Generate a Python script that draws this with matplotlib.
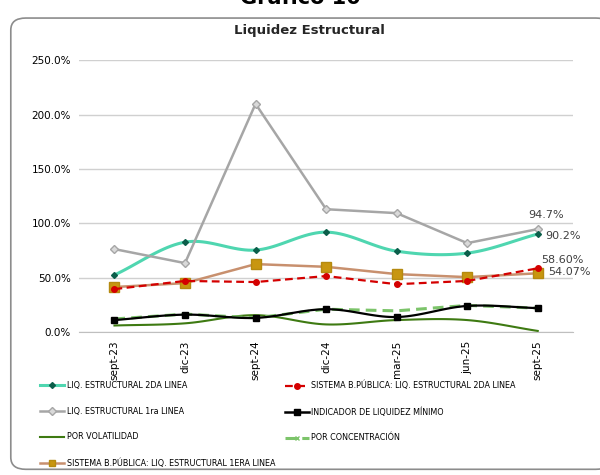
import numpy as np
import matplotlib
matplotlib.use('Agg')
import matplotlib.pyplot as plt
from matplotlib.patches import FancyBboxPatch
from matplotlib.ticker import FuncFormatter
from matplotlib.lines import Line2D

periods = ['sept-23', 'dic-23', 'sept-24', 'dic-24', 'mar-25', 'jun-25', 'sept-25']

liq_2da = [52.5, 82.7, 75.4, 91.9, 74.4, 72.6, 90.2]
sis_2da = [39.5, 47.0, 46.0, 51.5, 44.0, 47.0, 58.60]
liq_1ra = [76.3, 63.4, 210.0, 113.0, 109.4, 81.8, 94.7]
ind_min = [11.0, 16.0, 13.0, 21.0, 13.8, 24.0, 22.0]
por_vol = [6.0, 8.0, 15.5, 7.0, 11.0, 11.0, 1.0]
por_con = [12.0, 16.5, 13.0, 21.0, 19.5, 24.5, 22.0]
sis_1era = [41.4, 45.0, 62.5, 60.0, 53.3, 50.5, 54.07]


def smooth(x, y, n=20):
  # catmull-rom curve through the points, like the smoothed lines of the original
  x = np.asarray(x, float)
  y = np.asarray(y, float)
  px = np.concatenate([[2*x[0]-x[1]], x, [2*x[-1]-x[-2]]])
  py = np.concatenate([[2*y[0]-y[1]], y, [2*y[-1]-y[-2]]])
  xs, ys = [], []
  t = np.linspace(0, 1, n, endpoint=False)
  for i in range(1, len(px)-2):
    for p, out in ((px, xs), (py, ys)):
      p0, p1, p2, p3 = p[i-1], p[i], p[i+1], p[i+2]
      out.extend(0.5*((2*p1) + (-p0+p2)*t + (2*p0-5*p1+4*p2-p3)*t**2 + (-p0+3*p1-3*p2+p3)*t**3))
  xs.append(x[-1])
  ys.append(y[-1])
  return xs, ys


fig = plt.figure(figsize=(6, 4.75), dpi=100)
frame = FancyBboxPatch((0.018, 0.012), 1.0, 0.95, boxstyle='round,pad=0,rounding_size=0.025',
                       transform=fig.transFigure, fc='white', ec='#8c8c8c', lw=1.2, zorder=-5)
fig.patches.append(frame)
fig.text(0.5, 1.004, 'Gráfico 10', ha='center', va='center', fontsize=15, fontweight='bold')
fig.text(0.515, 0.935, 'Liquidez Estructural', ha='center', va='center', fontsize=9.5, fontweight='bold',
         color='#262626')

ax = fig.add_axes([0.132, 0.301, 0.823, 0.572])
ax.set_zorder(2)
ax.patch.set_alpha(0)
x = np.arange(len(periods))

sx, sy = smooth(x, liq_2da)
ax.plot(sx, sy, color='#4fd6b0', lw=2.2, zorder=3)
ax.plot(x, liq_2da, ls='none', marker='D', ms=3, color='#0b5e4a', zorder=4)

ax.plot(x, liq_1ra, color='#a6a6a6', lw=1.8, marker='D', ms=4, mfc='#d9d9d9', mec='#a6a6a6', zorder=3)

ax.plot(x, sis_1era, color='#c8906e', lw=1.8, zorder=3)
ax.plot(x, sis_1era, ls='none', marker='s', ms=7, color='#c89610', mec='#b58a10', zorder=4)

ax.plot(x, sis_2da, color='#d40000', lw=1.6, ls=(0, (3.5, 2)), marker='o', ms=4, zorder=5)

sx, sy = smooth(x, por_vol)
ax.plot(sx, sy, color='#3e7a12', lw=1.5, zorder=3)

ax.plot(x, por_con, color='#7cc46a', lw=2.2, ls=(0, (3.5, 2)), zorder=3)
sx, sy = smooth(x, ind_min)
ax.plot(sx, sy, color='black', lw=1.6, zorder=4)
ax.plot(x, ind_min, ls='none', marker='s', ms=5, color='black', zorder=5)

ax.text(x[-1]+0.12, liq_1ra[-1]+8, '94.7%', ha='center', va='bottom', fontsize=8, color='#404040')
ax.text(x[-1]+0.1, liq_2da[-1]-2, '90.2%', ha='left', va='center', fontsize=8, color='#404040')
ax.text(x[-1]+0.05, sis_2da[-1]+8, '58.60%', ha='left', va='center', fontsize=8, color='#404040')
ax.text(x[-1]+0.15, sis_1era[-1]+1, '54.07%', ha='left', va='center', fontsize=8, color='#404040')

ax.set_ylim(0, 250)
ax.set_yticks(np.arange(0, 251, 50))
ax.yaxis.set_major_formatter(FuncFormatter(lambda v, p: '{0:.1f}%'.format(v)))
ax.set_xlim(-0.5, 6.5)
ax.set_xticks(x)
ax.set_xticklabels(periods, rotation=90, fontsize=7.5)
ax.tick_params(axis='y', labelsize=7.5, length=0, pad=6)
ax.tick_params(axis='x', length=0, pad=6)
ax.grid(axis='y', color='#d0d0d0', lw=1)
ax.set_axisbelow(True)
for s in ['top', 'right', 'left']:
  ax.spines[s].set_visible(False)
ax.spines['bottom'].set_color('#bfbfbf')

# legend, two columns placed separately
left_h = [
  Line2D([], [], color='#4fd6b0', lw=2.2, marker='D', ms=3, mfc='#0b5e4a', mec='#0b5e4a'),
  Line2D([], [], color='#a6a6a6', lw=1.8, marker='D', ms=4, mfc='#d9d9d9', mec='#a6a6a6'),
  Line2D([], [], color='#3e7a12', lw=1.5),
  Line2D([], [], color='#c8906e', lw=1.8, marker='s', ms=5, mfc='#c89610', mec='#b58a10'),
]
left_l = ['LIQ. ESTRUCTURAL 2DA LINEA', 'LIQ. ESTRUCTURAL 1ra LINEA', 'POR VOLATILIDAD',
          'SISTEMA B.PÚBLICA: LIQ. ESTRUCTURAL 1ERA LINEA']
right_h = [
  Line2D([], [], color='#d40000', lw=1.6, ls=(0, (3.5, 2)), marker='o', ms=4),
  Line2D([], [], color='black', lw=1.8, marker='s', ms=4),
  Line2D([], [], color='#7cc46a', lw=2.2, ls=(0, (3.5, 2)), marker='x', ms=3),
]
right_l = ['SISTEMA B.PÚBLICA: LIQ. ESTRUCTURAL 2DA LINEA', 'INDICADOR DE LIQUIDEZ MÍNIMO',
           'POR CONCENTRACIÓN']
opts = dict(loc='upper left', frameon=False, fontsize=5.8, handlelength=2.9, handletextpad=0.35,
            labelspacing=2.08, borderaxespad=0)
fig.legend(left_h, left_l, bbox_to_anchor=(0.062, 0.205), **opts)
fig.legend(right_h, right_l, bbox_to_anchor=(0.47, 0.205), **opts)

fig.savefig('out.png', dpi=100)
